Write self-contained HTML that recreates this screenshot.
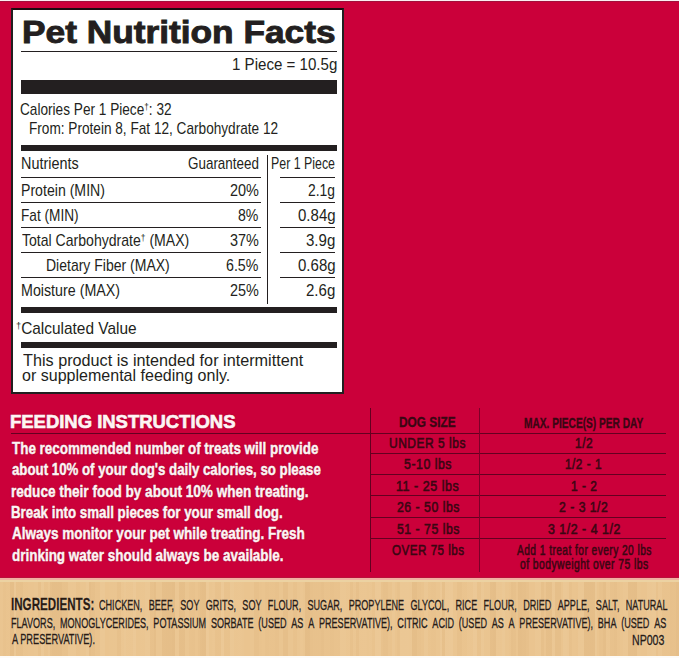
<!DOCTYPE html>
<html><head><meta charset="utf-8"><style>
*{margin:0;padding:0;box-sizing:border-box}
html,body{width:679px;height:658px;overflow:hidden}
body{position:relative;background:#cb003a;font-family:"Liberation Sans",sans-serif}
.a{position:absolute}
.t{position:absolute;white-space:nowrap;line-height:1;transform-origin:0 0}
.dg{font-size:60%;vertical-align:0.55em}
.box{position:absolute;left:11px;top:8px;width:333px;height:386px;border:2px solid #231f20;border-top-color:#1a0a0e;background:#fff}
.k{position:absolute;background:#231f20}
.m{position:absolute;background:#640020}
.j{position:absolute;display:flex;justify-content:space-between;white-space:nowrap;line-height:1;transform-origin:0 0;font-size:15.2px;color:#2a1b12;-webkit-text-stroke-width:0.4px;text-shadow:0 0 1.5px rgba(255,244,225,0.9)}
.title{-webkit-text-stroke:0.7px #231f20}
.tan{position:absolute;left:0;top:578px;width:679px;height:78px;background:linear-gradient(90deg,rgba(255,245,225,0.017) 0px 3px,rgba(140,80,20,0.016) 3px 6px,rgba(140,80,20,0.003) 6px 10px,rgba(140,80,20,0.052) 10px 14px,rgba(255,245,225,0.074) 14px 16px,rgba(140,80,20,0.029) 16px 20px,rgba(140,80,20,0.037) 20px 23px,rgba(140,80,20,0.004) 23px 28px,rgba(255,245,225,0.009) 28px 34px,rgba(255,245,225,0.025) 34px 38px,rgba(140,80,20,0.032) 38px 41px,rgba(255,245,225,0.066) 41px 44px,rgba(140,80,20,0.013) 44px 48px,rgba(255,245,225,0.031) 48px 50px,rgba(140,80,20,0.041) 50px 52px,rgba(140,80,20,0.055) 52px 56px,rgba(140,80,20,0.056) 56px 62px,rgba(140,80,20,0.028) 62px 68px,rgba(255,245,225,0.039) 68px 72px,rgba(255,245,225,0.039) 72px 76px,rgba(140,80,20,0.013) 76px 80px,rgba(255,245,225,0.014) 80px 86px,rgba(255,245,225,0.068) 86px 89px,rgba(140,80,20,0.056) 89px 91px,rgba(140,80,20,0.034) 91px 95px,rgba(140,80,20,0.008) 95px 100px,rgba(255,245,225,0.064) 100px 105px,rgba(255,245,225,0.001) 105px 109px,rgba(255,245,225,0.013) 109px 113px,rgba(255,245,225,0.015) 113px 117px,rgba(140,80,20,0.032) 117px 121px,rgba(255,245,225,0.033) 121px 124px,rgba(255,245,225,0.064) 124px 126px,rgba(255,245,225,0.031) 126px 130px,rgba(255,245,225,0.036) 130px 133px,rgba(255,245,225,0.084) 133px 136px,rgba(255,245,225,0.012) 136px 140px,rgba(255,245,225,0.028) 140px 145px,rgba(255,245,225,0.060) 145px 150px,rgba(140,80,20,0.028) 150px 154px,rgba(140,80,20,0.052) 154px 156px,rgba(255,245,225,0.025) 156px 162px,rgba(140,80,20,0.049) 162px 166px,rgba(140,80,20,0.052) 166px 172px,rgba(140,80,20,0.058) 172px 175px,rgba(255,245,225,0.048) 175px 179px,rgba(140,80,20,0.046) 179px 185px,rgba(255,245,225,0.021) 185px 189px,rgba(140,80,20,0.015) 189px 191px,rgba(140,80,20,0.020) 191px 195px,rgba(255,245,225,0.001) 195px 198px,rgba(140,80,20,0.023) 198px 200px,rgba(140,80,20,0.047) 200px 202px,rgba(140,80,20,0.056) 202px 206px,rgba(255,245,225,0.085) 206px 209px,rgba(255,245,225,0.020) 209px 212px,rgba(255,245,225,0.034) 212px 215px,rgba(140,80,20,0.019) 215px 221px,rgba(255,245,225,0.083) 221px 224px,rgba(140,80,20,0.015) 224px 230px,rgba(255,245,225,0.067) 230px 234px,rgba(255,245,225,0.026) 234px 238px,rgba(255,245,225,0.033) 238px 242px,rgba(255,245,225,0.022) 242px 244px,rgba(255,245,225,0.001) 244px 250px,rgba(255,245,225,0.024) 250px 254px,rgba(140,80,20,0.031) 254px 259px,rgba(140,80,20,0.008) 259px 262px,rgba(255,245,225,0.004) 262px 265px,rgba(140,80,20,0.019) 265px 269px,rgba(140,80,20,0.010) 269px 275px,rgba(140,80,20,0.022) 275px 279px,rgba(255,245,225,0.021) 279px 283px,rgba(140,80,20,0.044) 283px 288px,rgba(255,245,225,0.023) 288px 293px,rgba(140,80,20,0.018) 293px 297px,rgba(255,245,225,0.020) 297px 300px,rgba(255,245,225,0.043) 300px 303px,rgba(255,245,225,0.016) 303px 305px,rgba(140,80,20,0.057) 305px 310px,rgba(140,80,20,0.030) 310px 313px,rgba(140,80,20,0.024) 313px 317px,rgba(140,80,20,0.022) 317px 321px,rgba(140,80,20,0.038) 321px 324px,rgba(140,80,20,0.016) 324px 330px,rgba(140,80,20,0.028) 330px 334px,rgba(140,80,20,0.015) 334px 340px,rgba(255,245,225,0.056) 340px 346px,rgba(255,245,225,0.033) 346px 350px,rgba(140,80,20,0.023) 350px 353px,rgba(255,245,225,0.028) 353px 356px,rgba(140,80,20,0.031) 356px 359px,rgba(255,245,225,0.032) 359px 362px,rgba(255,245,225,0.036) 362px 367px,rgba(255,245,225,0.018) 367px 369px,rgba(255,245,225,0.031) 369px 372px,rgba(140,80,20,0.007) 372px 375px,rgba(255,245,225,0.083) 375px 381px,rgba(140,80,20,0.020) 381px 383px,rgba(140,80,20,0.034) 383px 388px,rgba(140,80,20,0.006) 388px 392px,rgba(255,245,225,0.052) 392px 395px,rgba(255,245,225,0.005) 395px 397px,rgba(140,80,20,0.022) 397px 400px,rgba(255,245,225,0.061) 400px 406px,rgba(255,245,225,0.065) 406px 409px,rgba(255,245,225,0.055) 409px 412px,rgba(140,80,20,0.050) 412px 417px,rgba(140,80,20,0.019) 417px 421px,rgba(140,80,20,0.009) 421px 424px,rgba(255,245,225,0.053) 424px 428px,rgba(140,80,20,0.004) 428px 431px,rgba(140,80,20,0.010) 431px 436px,rgba(255,245,225,0.012) 436px 440px,rgba(255,245,225,0.076) 440px 442px,rgba(140,80,20,0.036) 442px 445px,rgba(255,245,225,0.080) 445px 449px,rgba(255,245,225,0.088) 449px 453px,rgba(255,245,225,0.011) 453px 457px,rgba(140,80,20,0.033) 457px 462px,rgba(140,80,20,0.005) 462px 467px,rgba(255,245,225,0.029) 467px 473px,rgba(255,245,225,0.083) 473px 477px,rgba(140,80,20,0.019) 477px 481px,rgba(255,245,225,0.065) 481px 484px,rgba(255,245,225,0.016) 484px 490px,rgba(140,80,20,0.046) 490px 493px,rgba(140,80,20,0.055) 493px 496px,rgba(255,245,225,0.035) 496px 502px,rgba(255,245,225,0.071) 502px 505px,rgba(255,245,225,0.014) 505px 509px,rgba(140,80,20,0.002) 509px 511px,rgba(140,80,20,0.039) 511px 513px,rgba(140,80,20,0.031) 513px 516px,rgba(255,245,225,0.004) 516px 518px,rgba(140,80,20,0.054) 518px 522px,rgba(140,80,20,0.046) 522px 526px,rgba(140,80,20,0.030) 526px 529px,rgba(255,245,225,0.007) 529px 535px,rgba(255,245,225,0.051) 535px 541px,rgba(140,80,20,0.034) 541px 544px,rgba(255,245,225,0.006) 544px 546px,rgba(140,80,20,0.046) 546px 552px,rgba(255,245,225,0.053) 552px 555px,rgba(140,80,20,0.045) 555px 561px,rgba(140,80,20,0.001) 561px 563px,rgba(255,245,225,0.065) 563px 567px,rgba(255,245,225,0.046) 567px 569px,rgba(140,80,20,0.028) 569px 572px,rgba(255,245,225,0.004) 572px 576px,rgba(140,80,20,0.003) 576px 578px,rgba(255,245,225,0.058) 578px 584px,rgba(140,80,20,0.053) 584px 590px,rgba(140,80,20,0.054) 590px 593px,rgba(140,80,20,0.052) 593px 595px,rgba(255,245,225,0.064) 595px 597px,rgba(255,245,225,0.003) 597px 599px,rgba(140,80,20,0.022) 599px 603px,rgba(140,80,20,0.051) 603px 606px,rgba(255,245,225,0.026) 606px 610px,rgba(140,80,20,0.024) 610px 614px,rgba(140,80,20,0.037) 614px 617px,rgba(140,80,20,0.009) 617px 620px,rgba(255,245,225,0.010) 620px 623px,rgba(255,245,225,0.040) 623px 628px,rgba(140,80,20,0.050) 628px 634px,rgba(140,80,20,0.055) 634px 637px,rgba(255,245,225,0.019) 637px 641px,rgba(255,245,225,0.007) 641px 647px,rgba(255,245,225,0.054) 647px 652px,rgba(255,245,225,0.070) 652px 656px,rgba(140,80,20,0.015) 656px 658px,rgba(255,245,225,0.047) 658px 662px,rgba(140,80,20,0.010) 662px 665px,rgba(140,80,20,0.010) 665px 670px,rgba(140,80,20,0.031) 670px 672px,rgba(140,80,20,0.028) 672px 676px,rgba(140,80,20,0.051) 676px 680px),#eac48f}
</style></head><body>
<div class="a" style="left:0;top:0;width:679px;height:1px;background:#fbeef2"></div>
<div class="a" style="left:0;top:1px;width:679px;height:1px;background:#a3103c"></div>
<div class="box"></div>
<div class="k" style="left:21px;top:51px;width:316px;height:1px"></div>
<div class="k" style="left:21px;top:80px;width:316px;height:14px"></div>
<div class="k" style="left:21px;top:145px;width:316px;height:6px"></div>
<div class="k" style="left:267px;top:155px;width:1px;height:149px"></div>
<div class="k" style="left:21px;top:177px;width:240px;height:1px"></div>
<div class="k" style="left:21px;top:202px;width:240px;height:1px"></div>
<div class="k" style="left:21px;top:227px;width:240px;height:1px"></div>
<div class="k" style="left:21px;top:252px;width:240px;height:1px"></div>
<div class="k" style="left:21px;top:277px;width:240px;height:1px"></div>
<div class="k" style="left:280px;top:177px;width:55px;height:1px"></div>
<div class="k" style="left:280px;top:202px;width:55px;height:1px"></div>
<div class="k" style="left:280px;top:227px;width:55px;height:1px"></div>
<div class="k" style="left:280px;top:252px;width:55px;height:1px"></div>
<div class="k" style="left:280px;top:277px;width:55px;height:1px"></div>
<div class="k" style="left:21px;top:307px;width:316px;height:6px"></div>
<div class="k" style="left:21px;top:342px;width:316px;height:6px"></div>
<div class="m" style="left:11px;top:433px;width:655px;height:1px"></div>
<div class="m" style="left:370px;top:453px;width:296px;height:1px"></div>
<div class="m" style="left:370px;top:474px;width:296px;height:1px"></div>
<div class="m" style="left:370px;top:495px;width:296px;height:1px"></div>
<div class="m" style="left:370px;top:517px;width:296px;height:1px"></div>
<div class="m" style="left:370px;top:538px;width:296px;height:1px"></div>
<div class="m" style="left:370px;top:408px;width:1px;height:164px"></div>
<div class="m" style="left:479px;top:408px;width:1px;height:164px;background:#7c0028"></div>
<div class="tan"></div>
<div class="a" style="left:0;top:577px;width:679px;height:1px;background:#b8103a"></div>
<div class="a" style="left:0;top:578px;width:679px;height:2px;background:#f0b0a0"></div>
<div class="a" style="left:0;top:580px;width:679px;height:2px;background:#ecd2a2"></div>
<div class="a" style="left:0;top:656px;width:679px;height:2px;background:#fdfbf8"></div>
<div class="t" style="left:22.16px;top:16.90px;font-size:31.5px;color:#231f20;transform:scaleX(1.1199);font-weight:700;-webkit-text-stroke-width:0.9px;">Pet Nutrition Facts</div>
<div class="t" style="left:231.97px;top:56.00px;font-size:16.2px;color:#231f20;transform:scaleX(0.9324);">1 Piece = 10.5g</div>
<div class="t" style="left:20.26px;top:100.50px;font-size:16.2px;color:#231f20;transform:scaleX(0.8421);">Calories Per 1 Piece<span class="dg">&dagger;</span>: 32</div>
<div class="t" style="left:28.76px;top:119.80px;font-size:16.2px;color:#231f20;transform:scaleX(0.8415);">From: Protein 8, Fat 12, Carbohydrate 12</div>
<div class="t" style="left:21.01px;top:154.90px;font-size:16.2px;color:#231f20;transform:scaleX(0.8889);">Nutrients</div>
<div class="t" style="left:187.67px;top:155.00px;font-size:16.2px;color:#231f20;transform:scaleX(0.8298);">Guaranteed</div>
<div class="t" style="left:271.14px;top:155.00px;font-size:16.2px;color:#231f20;transform:scaleX(0.7646);">Per 1 Piece</div>
<div class="t" style="left:21.03px;top:181.50px;font-size:16.2px;color:#231f20;transform:scaleX(0.8723);">Protein (MIN)</div>
<div class="t" style="left:229.61px;top:181.50px;font-size:16.2px;color:#231f20;transform:scaleX(0.8935);">20%</div>
<div class="t" style="left:308.14px;top:181.50px;font-size:16.2px;color:#231f20;transform:scaleX(0.8567);">2.1g</div>
<div class="t" style="left:21.06px;top:206.50px;font-size:16.2px;color:#231f20;transform:scaleX(0.8433);">Fat (MIN)</div>
<div class="t" style="left:238.13px;top:206.50px;font-size:16.2px;color:#231f20;transform:scaleX(0.8727);">8%</div>
<div class="t" style="left:297.57px;top:206.50px;font-size:16.2px;color:#231f20;transform:scaleX(0.9282);">0.84g</div>
<div class="t" style="left:21.90px;top:232.00px;font-size:16.2px;color:#231f20;transform:scaleX(0.8687);">Total Carbohydrate<span class="dg">&dagger;</span> (MAX)</div>
<div class="t" style="left:229.71px;top:232.00px;font-size:16.2px;color:#231f20;transform:scaleX(0.8903);">37%</div>
<div class="t" style="left:305.87px;top:232.00px;font-size:16.2px;color:#231f20;transform:scaleX(0.9300);">3.9g</div>
<div class="t" style="left:45.93px;top:257.40px;font-size:16.2px;color:#231f20;transform:scaleX(0.8652);">Dietary Fiber (MAX)</div>
<div class="t" style="left:225.72px;top:257.40px;font-size:16.2px;color:#231f20;transform:scaleX(0.8778);">6.5%</div>
<div class="t" style="left:297.57px;top:257.40px;font-size:16.2px;color:#231f20;transform:scaleX(0.9282);">0.68g</div>
<div class="t" style="left:21.02px;top:282.30px;font-size:16.2px;color:#231f20;transform:scaleX(0.8811);">Moisture (MAX)</div>
<div class="t" style="left:229.71px;top:282.30px;font-size:16.2px;color:#231f20;transform:scaleX(0.8903);">25%</div>
<div class="t" style="left:305.87px;top:282.30px;font-size:16.2px;color:#231f20;transform:scaleX(0.9300);">2.6g</div>
<div class="t" style="left:15.75px;top:320.30px;font-size:16.2px;color:#231f20;transform:scaleX(0.9528);"><span class="dg">&dagger;</span>Calculated Value</div>
<div class="t" style="left:22.80px;top:352.00px;font-size:16.2px;color:#231f20;transform:scaleX(1.0014);">This product is intended for intermittent</div>
<div class="t" style="left:21.81px;top:367.40px;font-size:16.2px;color:#231f20;transform:scaleX(0.9904);">or supplemental feeding only.</div>
<div class="t" style="left:10.03px;top:411.60px;font-size:19px;color:#fff4f4;transform:scaleX(0.9710);font-weight:700;-webkit-text-stroke-width:0.7px;text-shadow:0 0 1.5px rgba(70,0,20,0.7);">FEEDING INSTRUCTIONS</div>
<div class="t" style="left:11.60px;top:440.60px;font-size:16px;color:#fff4f4;transform:scaleX(0.8386);font-weight:700;-webkit-text-stroke-width:0.45px;text-shadow:0 0 1.5px rgba(70,0,20,0.7);">The recommended number of treats will provide</div>
<div class="t" style="left:11.60px;top:462.10px;font-size:16px;color:#fff4f4;transform:scaleX(0.8284);font-weight:700;-webkit-text-stroke-width:0.45px;text-shadow:0 0 1.5px rgba(70,0,20,0.7);">about 10% of your dog's daily calories, so please</div>
<div class="t" style="left:10.75px;top:483.70px;font-size:16px;color:#fff4f4;transform:scaleX(0.8474);font-weight:700;-webkit-text-stroke-width:0.45px;text-shadow:0 0 1.5px rgba(70,0,20,0.7);">reduce their food by about 10% when treating.</div>
<div class="t" style="left:10.77px;top:505.20px;font-size:16px;color:#fff4f4;transform:scaleX(0.8323);font-weight:700;-webkit-text-stroke-width:0.45px;text-shadow:0 0 1.5px rgba(70,0,20,0.7);">Break into small pieces for your small dog.</div>
<div class="t" style="left:11.60px;top:526.30px;font-size:16px;color:#fff4f4;transform:scaleX(0.8445);font-weight:700;-webkit-text-stroke-width:0.45px;text-shadow:0 0 1.5px rgba(70,0,20,0.7);">Always monitor your pet while treating. Fresh</div>
<div class="t" style="left:11.60px;top:548.00px;font-size:16px;color:#fff4f4;transform:scaleX(0.8413);font-weight:700;-webkit-text-stroke-width:0.45px;text-shadow:0 0 1.5px rgba(70,0,20,0.7);">drinking water should always be available.</div>
<div class="t" style="left:399.05px;top:415.40px;font-size:14px;color:#3a0612;transform:scaleX(0.8470);font-weight:700;-webkit-text-stroke-width:0.3px;">DOG SIZE</div>
<div class="t" style="left:524.27px;top:415.50px;font-size:14px;color:#3a0612;transform:scaleX(0.7252);font-weight:700;-webkit-text-stroke-width:0.3px;">MAX. PIECE(S) PER DAY</div>
<div class="t" style="left:389.14px;top:436.40px;font-size:14px;color:#3a0612;transform:scaleX(0.8568);-webkit-text-stroke-width:0.55px;letter-spacing:0.6px;">UNDER 5 lbs</div>
<div class="t" style="left:574.95px;top:436.20px;font-size:14px;color:#3a0612;transform:scaleX(0.8500);-webkit-text-stroke-width:0.55px;letter-spacing:0.6px;">1/2</div>
<div class="t" style="left:403.90px;top:457.40px;font-size:14px;color:#3a0612;transform:scaleX(0.8796);-webkit-text-stroke-width:0.55px;letter-spacing:0.6px;">5-10 lbs</div>
<div class="t" style="left:565.46px;top:457.20px;font-size:14px;color:#3a0612;transform:scaleX(0.8429);-webkit-text-stroke-width:0.55px;letter-spacing:0.6px;">1/2 - 1</div>
<div class="t" style="left:396.11px;top:478.70px;font-size:14px;color:#3a0612;transform:scaleX(0.8928);-webkit-text-stroke-width:0.55px;letter-spacing:0.6px;">11 - 25 lbs</div>
<div class="t" style="left:570.65px;top:478.50px;font-size:14px;color:#3a0612;transform:scaleX(0.8517);-webkit-text-stroke-width:0.55px;letter-spacing:0.6px;">1 - 2</div>
<div class="t" style="left:396.50px;top:500.20px;font-size:14px;color:#3a0612;transform:scaleX(0.8746);-webkit-text-stroke-width:0.55px;letter-spacing:0.6px;">26 - 50 lbs</div>
<div class="t" style="left:559.20px;top:500.00px;font-size:14px;color:#3a0612;transform:scaleX(0.8679);-webkit-text-stroke-width:0.55px;letter-spacing:0.6px;">2 - 3 1/2</div>
<div class="t" style="left:396.50px;top:521.70px;font-size:14px;color:#3a0612;transform:scaleX(0.8746);-webkit-text-stroke-width:0.55px;letter-spacing:0.6px;">51 - 75 lbs</div>
<div class="t" style="left:547.80px;top:521.50px;font-size:14px;color:#3a0612;transform:scaleX(0.8829);-webkit-text-stroke-width:0.55px;letter-spacing:0.6px;">3 1/2 - 4 1/2</div>
<div class="t" style="left:391.70px;top:542.90px;font-size:14px;color:#3a0612;transform:scaleX(0.8299);-webkit-text-stroke-width:0.55px;letter-spacing:0.6px;">OVER 75 lbs</div>
<div class="t" style="left:516.80px;top:542.60px;font-size:14px;color:#3a0612;transform:scaleX(0.7293);-webkit-text-stroke-width:0.55px;letter-spacing:0.6px;">Add 1 treat for every 20 lbs</div>
<div class="t" style="left:519.80px;top:557.00px;font-size:14px;color:#3a0612;transform:scaleX(0.7399);-webkit-text-stroke-width:0.55px;letter-spacing:0.6px;">of bodyweight over 75 lbs</div>
<div class="t" style="left:11.60px;top:631.00px;font-size:15.2px;color:#2a1b12;transform:scaleX(0.6066);-webkit-text-stroke-width:0.4px;text-shadow:0 0 1.5px rgba(255,244,225,0.9);">A PRESERVATIVE).</div>
<div class="t" style="left:632.20px;top:631.90px;font-size:15.2px;color:#2a1b12;transform:scaleX(0.6978);-webkit-text-stroke-width:0.4px;text-shadow:0 0 1.5px rgba(255,244,225,0.9);">NP003</div>
<div class="t" style="left:11.10px;top:596.60px;font-size:16.6px;font-weight:700;color:#2a1b12;-webkit-text-stroke-width:0.3px;text-shadow:0 0 1.5px rgba(255,244,225,0.9);transform:scaleX(0.7000)">INGREDIENTS:</div>
<div class="j" style="left:99.00px;top:596.60px;width:950.66px;transform:scaleX(0.598)"><span>CHICKEN,</span><span>BEEF,</span><span>SOY</span><span>GRITS,</span><span>SOY</span><span>FLOUR,</span><span>SUGAR,</span><span>PROPYLENE</span><span>GLYCOL,</span><span>RICE</span><span>FLOUR,</span><span>DRIED</span><span>APPLE,</span><span>SALT,</span><span>NATURAL</span></div>
<div class="j" style="left:11.20px;top:614.70px;width:1095.98px;transform:scaleX(0.598)"><span>FLAVORS,</span><span>MONOGLYCERIDES,</span><span>POTASSIUM</span><span>SORBATE</span><span>(USED</span><span>AS</span><span>A</span><span>PRESERVATIVE),</span><span>CITRIC</span><span>ACID</span><span>(USED</span><span>AS</span><span>A</span><span>PRESERVATIVE),</span><span>BHA</span><span>(USED</span><span>AS</span></div>
</body></html>
